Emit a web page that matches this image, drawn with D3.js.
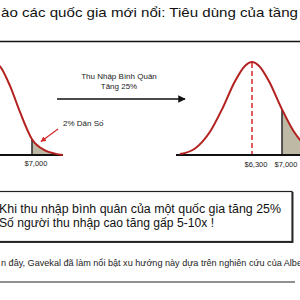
<!DOCTYPE html>
<html><head><meta charset="utf-8">
<script src="https://cdn.jsdelivr.net/npm/d3@7"></script>
<style>html,body{margin:0;padding:0;background:#fff;overflow:hidden}svg{display:block}text{font-family:"Liberation Sans",Arial,sans-serif}</style>
</head><body>
<script>
// ---- data ----
const titleText = "ào các quốc gia mới nổi: Tiêu dùng của tầng";
const arrowLabel = ["Thu Nhập Bình Quân", "Tăng 25%"];
const shareLabel = "2% Dân Số";
const boxLines = ["Khi thu nhập bình quân của một quốc gia tăng 25%", "Số người thu nhập cao tăng gấp 5-10x !"];
const footerText = "n đây, Gavekal đã làm nổi bật xu hướng này dựa trên nghiên cứu của Albe";
const threshold = 7000;
const meanAfter = 6300;
const tickLeft = [7000];
const tickRight = [6300, 7000];
// income ($), relative density
const curveBefore = [[3400,0.32],[4150,0.72],[5040,1.0],[5400,0.95],[5900,0.74],[6400,0.46],[7000,0.17],[7650,0.05],[8150,0.015],[8550,0.0]];
const curveAfter = [[4620,0.01],[4970,0.07],[5320,0.25],[5620,0.51],[5900,0.79],[6140,0.96],[6300,1.0],[6460,0.96],[6700,0.79],[6980,0.51],[7280,0.25],[7630,0.07],[7980,0.01]];

const W = 300, H = 300;
const svg = d3.select("body").append("svg").attr("width", W).attr("height", H);
const red = "#b3211e", shade = "#bdb9a5";

// title
svg.append("text").attr("x", 1).attr("y", 17).attr("font-size", 13.2).attr("fill", "#111")
  .attr("textLength", 297).attr("lengthAdjust", "spacingAndGlyphs").text(titleText);
svg.append("line").attr("x1", 0).attr("x2", 300).attr("y1", 41.5).attr("y2", 41.5).attr("stroke", "#111").attr("stroke-width", 1.4);

const y = d3.scaleLinear().domain([0, 1]).range([155, 62]);
const xL = d3.scaleLinear().domain([5040, 7000]).range([-7, 32]);
const xR = d3.scaleLinear().domain([6300, 7000]).range([252, 282]);

function panel(data, x, id, baseRange) {
  const g = svg.append("g");
  const area = d3.area().x(d => x(d[0])).y0(y(0)).y1(d => y(d[1])).curve(d3.curveMonotoneX);
  const line = d3.line().x(d => x(d[0])).y(d => y(d[1])).curve(d3.curveMonotoneX);
  const cp = svg.append("clipPath").attr("id", "tail" + id);
  cp.append("rect").attr("x", x(threshold)).attr("y", 0).attr("width", 400).attr("height", 300);
  const ca = svg.append("clipPath").attr("id", "under" + id);
  ca.append("path").attr("d", area(data));
  g.append("path").attr("d", area(data)).attr("fill", shade).attr("clip-path", `url(#tail${id})`);
  g.append("line").attr("x1", x(threshold)).attr("x2", x(threshold)).attr("y1", y(0)).attr("y2", 40)
    .attr("stroke", "#333").attr("stroke-width", 1.6).attr("clip-path", `url(#under${id})`);
  g.append("line").attr("x1", baseRange[0]).attr("x2", baseRange[1]).attr("y1", y(0)).attr("y2", y(0))
    .attr("stroke", "#111").attr("stroke-width", 2);
  g.append("path").attr("class", "curve").attr("d", line(data)).attr("fill", "none").attr("stroke", red).attr("stroke-width", 2);
  return g;
}

const gL = panel(curveBefore, xL, "L", [0, 63]);
const gR = panel(curveAfter, xR, "R", [176, 300]);

gR.insert("line", ".curve").attr("x1", xR(meanAfter)).attr("x2", xR(meanAfter)).attr("y1", y(1) + 1).attr("y2", y(0) - 1)
  .attr("stroke", "#d8343a").attr("stroke-width", 1.6).attr("stroke-dasharray", "5,3");

const fmt = d => "$" + d3.format(",")(d);
svg.selectAll(".tl").data(tickLeft).join("text").attr("x", d => xL(d) + 4).attr("y", 166)
  .attr("text-anchor", "middle").attr("font-size", 7.5).attr("fill", "#222").text(fmt);
svg.selectAll(".tr").data(tickRight).join("text").attr("x", d => xR(d) + 4).attr("y", 167)
  .attr("text-anchor", "middle").attr("font-size", 7.5).attr("fill", "#222").text(fmt);

const defs = svg.append("defs");
defs.append("marker").attr("id", "ab").attr("viewBox", "0 0 10 10").attr("refX", 9).attr("refY", 5)
  .attr("markerWidth", 5).attr("markerHeight", 5).attr("orient", "auto")
  .append("path").attr("d", "M0,0L10,5L0,10z").attr("fill", "#111");
defs.append("marker").attr("id", "ar").attr("viewBox", "0 0 10 10").attr("refX", 9).attr("refY", 5)
  .attr("markerWidth", 4.5).attr("markerHeight", 4.5).attr("orient", "auto")
  .append("path").attr("d", "M0,0L10,5L0,10z").attr("fill", "#d42a2a");
svg.append("line").attr("x1", 57).attr("x2", 185).attr("y1", 99).attr("y2", 99)
  .attr("stroke", "#111").attr("stroke-width", 1.5).attr("marker-end", "url(#ab)");
svg.selectAll(".al").data(arrowLabel).join("text").attr("x", 119).attr("y", (d, i) => 79 + i * 10)
  .attr("text-anchor", "middle").attr("font-size", 8).attr("fill", "#222").text(d => d);

svg.append("line").attr("x1", 58).attr("y1", 129).attr("x2", 41).attr("y2", 141.5)
  .attr("stroke", "#d42a2a").attr("stroke-width", 1.2).attr("marker-end", "url(#ar)");
svg.append("text").attr("x", 63).attr("y", 126).attr("font-size", 8).attr("fill", "#222").text(shareLabel);

// box
svg.append("rect").attr("x", -10).attr("y", 192).attr("width", 303.5).attr("height", 51).attr("fill", "#333");
svg.append("rect").attr("x", -10).attr("y", 191.5).attr("width", 302).attr("height", 50).attr("fill", "#fff").attr("stroke", "#222").attr("stroke-width", 1.2);
const boxLens = [282, 215];
svg.selectAll(".bl").data(boxLines).join("text").attr("x", -1).attr("y", (d, i) => 213 + i * 14)
  .attr("font-size", 12).attr("fill", "#111")
  .attr("textLength", (d, i) => boxLens[i]).attr("lengthAdjust", "spacingAndGlyphs").text(d => d);

svg.append("text").attr("x", 1).attr("y", 266).attr("font-size", 8.4).attr("fill", "#222")
  .attr("textLength", 301).attr("lengthAdjust", "spacingAndGlyphs").text(footerText);
svg.append("line").attr("x1", 0).attr("x2", 295).attr("y1", 282).attr("y2", 282).attr("stroke", "#222").attr("stroke-width", 1.2);
</script>
</body></html>
